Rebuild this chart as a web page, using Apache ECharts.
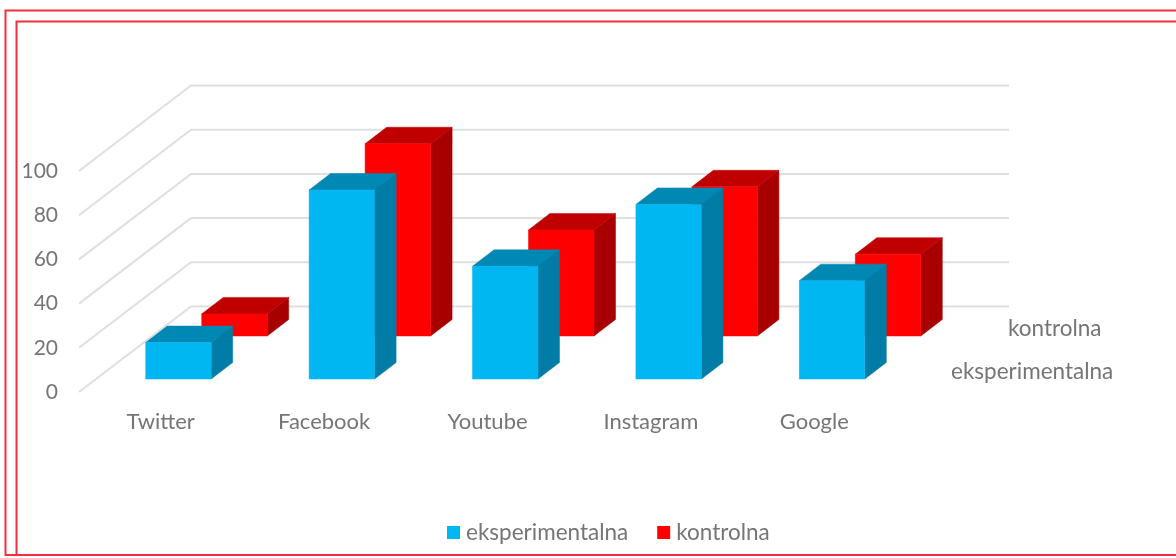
<!DOCTYPE html>
<html>
<head>
<meta charset="utf-8">
<style>html,body{margin:0;padding:0;background:#fff}#c{width:1176px;height:558px}</style>
<script src="https://cdn.jsdelivr.net/npm/echarts@6/dist/echarts.min.js"></script>
</head>
<body>
<div id="c"></div>
<script>
var categories = ['Twitter', 'Facebook', 'Youtube', 'Instagram', 'Google'];
var eksperimentalna = [16.5, 85.5, 51, 79, 44.5];
var kontrolna = [10, 87, 48, 67.5, 37];
var gridTicks = [0, 20, 40, 60, 80, 100];
var depthLabels = ['kontrolna', 'eksperimentalna'];

var FONT = 'Lato';
var TEXT = '#757575';
var chart = echarts.init(document.getElementById('c'));

function poly(pts, color) {
  return { type: 'polygon', shape: { points: pts }, style: { fill: color, stroke: color, lineWidth: 0.5 } };
}
function barRenderer(dx, dy, front, top, side) {
  var W = 65.5, DX = 21.5, DY = 16.5;
  return function (params, api) {
    var b = api.coord([api.value(0), 0]);
    var t = api.coord([api.value(0), api.value(1)]);
    var l = b[0] + dx, r = l + W, by = b[1] + dy, ty = t[1] + dy;
    return {
      type: 'group',
      children: [
        poly([[r, by], [r + DX, by - DY], [r + DX, ty - DY], [r, ty]], side),
        poly([[l, ty], [r, ty], [r + DX, ty - DY], [l + DX, ty - DY]], top),
        poly([[l, by], [r, by], [r, ty], [l, ty]], front)
      ]
    };
  };
}
function gridRenderer(params, api) {
  var p = api.coord([0, api.value(0)]);
  var x0 = p[0] - api.size([1, 0])[0] / 2;
  return {
    type: 'polyline',
    shape: { points: [[x0, p[1]], [x0 + 112, p[1] - 85.5], [x0 + 930, p[1] - 85.5]] },
    style: { fill: 'none', stroke: '#dfdfdf', lineWidth: 2 }
  };
}

chart.setOption({
  animation: false,
  backgroundColor: '#fff',
  textStyle: { fontFamily: FONT },
  grid: { left: 79, width: 817, top: 171, height: 221, containLabel: false },
  legend: {
    data: ['eksperimentalna', 'kontrolna'],
    left: 447, top: 521, padding: 0, itemWidth: 13, itemHeight: 13, itemGap: 29,
    icon: 'rect',
    textStyle: { color: TEXT, fontSize: 22.5, fontFamily: FONT, padding: [0, 0, 0, 1] }
  },
  xAxis: {
    type: 'category', data: categories,
    axisLine: { show: false }, axisTick: { show: false }, splitLine: { show: false },
    axisLabel: { color: TEXT, fontSize: 22, fontFamily: FONT, margin: 19, interval: 0 }
  },
  yAxis: {
    type: 'value', min: 0, max: 100, interval: 20,
    axisLine: { show: false }, axisTick: { show: false }, splitLine: { show: false },
    axisLabel: { color: TEXT, fontSize: 21, fontFamily: FONT, margin: 21, padding: [0, 0, 7, 0] }
  },
  series: [
    { type: 'custom', name: 'siatka', silent: true, z: 1, renderItem: gridRenderer,
      data: gridTicks.map(function (v) { return [v]; }), encode: { y: 0 } },
    { type: 'custom', name: 'kontrolna', z: 2, itemStyle: { color: '#FF0000' },
      renderItem: barRenderer(41, -56, '#FF0000', '#C00000', '#A80000'),
      data: kontrolna.map(function (v, i) { return [i, v]; }), encode: { x: 0, y: 1 } },
    { type: 'custom', name: 'eksperimentalna', z: 3, itemStyle: { color: '#00B7F1' },
      renderItem: barRenderer(-15, -13, '#00B7F1', '#0088B4', '#007CA6'),
      data: eksperimentalna.map(function (v, i) { return [i, v]; }), encode: { x: 0, y: 1 } }
  ],
  graphic: [
    { type: 'rect', shape: { x: 5.5, y: 10.5, width: 1300, height: 544.5 }, style: { fill: 'none', stroke: '#f0303c', lineWidth: 2 }, silent: true },
    { type: 'rect', shape: { x: 16.5, y: 21.5, width: 1300, height: 533.5 }, style: { fill: 'none', stroke: '#f0303c', lineWidth: 2 }, silent: true },
    { type: 'text', left: 1008, top: 317, style: { text: depthLabels[0], fill: TEXT, font: '22.5px ' + FONT } },
    { type: 'text', left: 951, top: 360, style: { text: depthLabels[1], fill: TEXT, font: '22.5px ' + FONT } }
  ]
});
</script>
</body>
</html>
